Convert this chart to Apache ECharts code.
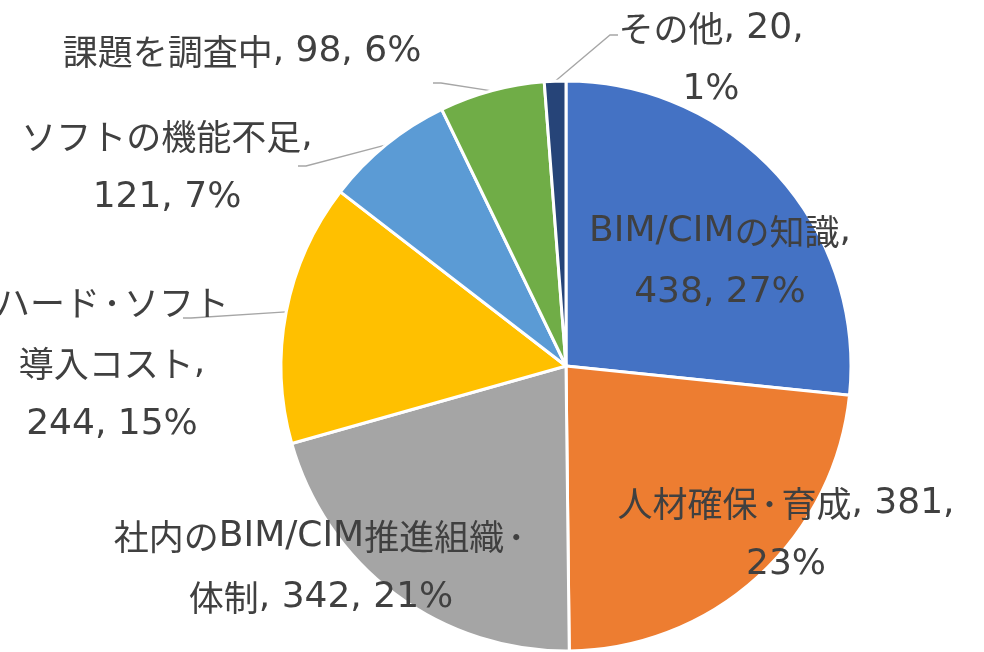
<!DOCTYPE html>
<html>
<head>
<meta charset="utf-8">
<script src="https://cdn.jsdelivr.net/npm/echarts@6/dist/echarts.min.js"></script>
<style>
html,body{margin:0;padding:0;background:#fff;}
#chart{width:984px;height:652px;}
</style>
</head>
<body>
<div id="chart"></div>
<script>
// ---- data ----
const categories = ['BIM/CIMの知識', '人材確保・育成', '社内のBIM/CIM推進組織・体制', 'ハード・ソフト導入コスト', 'ソフトの機能不足', '課題を調査中', 'その他'];
const values = [438, 381, 342, 244, 121, 98, 20];

// ---- presentation (kept apart from data) ----
const colors = ['#4472C4', '#ED7D31', '#A5A5A5', '#FFC000', '#5B9BD5', '#70AD47', '#264478'];
// where the category name wraps (char index, -1 = none)
const nameWrapAt = [-1, -1, 15, 7, -1, -1, -1];
// which separator becomes a line break: 0 none, 1 after name, 2 after value
const sepBreak = [1, 2, 0, 1, 1, 0, 2];
// label block centres
const labelCenters = [[720, 262], [786, 534], [321, 567], [112, 364], [167, 167], [242, 52], [711, 59]];
// leader-line end, offset from label centre (null = no leader line)
const leaderEnds = [null, null, null, [71, -46], [131, -1], [191, 31], [-93, -24]];

const CJK = /[\u3000-\u30ff\u3400-\u9fff\uff00-\uffef]/;
function cls(ch) {
  if (ch === '・') return 'd';
  return CJK.test(ch) ? 'j' : 'l';
}
function richify(text) {
  return text.split('\n').map(function (line) {
    let out = '', run = '', runCls = null;
    for (const ch of line) {
      const c = cls(ch);
      if (runCls !== null && c !== runCls) { out += '{' + runCls + '|' + run + '}'; run = ''; }
      runCls = c; run += ch;
    }
    if (run) out += '{' + runCls + '|' + run + '}';
    return out;
  }).join('\n');
}

const pieData = categories.map(function (name, i) {
  return {
    name: name,
    value: values[i],
    itemStyle: { color: colors[i] },
    labelLine: { show: leaderEnds[i] !== null }
  };
});

const chart = echarts.init(document.getElementById('chart'), null, { renderer: 'canvas' });
chart.setOption({
  backgroundColor: '#ffffff',
  animation: false,
  series: [{
    type: 'pie',
    center: [566, 366],
    radius: 285,
    startAngle: 90,
    clockwise: true,
    avoidLabelOverlap: false,
    data: pieData,
    itemStyle: { borderColor: '#ffffff', borderWidth: 3 },
    label: {
      show: true,
      position: 'outside',
      color: '#404040',
      align: 'center',
      formatter: function (p) {
        const i = p.dataIndex;
        let name = p.name;
        if (nameWrapAt[i] > 0) name = name.slice(0, nameWrapAt[i]) + '\n' + name.slice(nameWrapAt[i]);
        const pct = Math.round(p.percent) + '%';
        const s1 = sepBreak[i] === 1 ? ',\n' : ', ';
        const s2 = sepBreak[i] === 2 ? ',\n' : ', ';
        return richify(name + s1 + p.value + s2 + pct);
      },
      rich: {
        l: { fontFamily: 'DejaVu Sans', fontSize: 36, color: '#404040', lineHeight: 61, align: 'center' },
        j: { fontFamily: 'Noto Sans CJK JP', fontSize: 35, color: '#404040', lineHeight: 61, align: 'center' },
        d: { fontFamily: 'Noto Sans CJK JP', fontSize: 24, fontWeight: 'bold', color: '#404040', lineHeight: 61, align: 'center' }
      }
    },
    labelLine: {
      show: true,
      length: 10,
      length2: 10,
      lineStyle: { color: '#A6A6A6', width: 1.3 }
    },
    labelLayout: function (p) {
      const i = p.dataIndex;
      const c = labelCenters[i];
      const res = { x: c[0], y: c[1], align: 'center', verticalAlign: 'middle' };
      const e = leaderEnds[i];
      if (e) {
        let start;
        if (p.labelLinePoints && p.labelLinePoints.length) {
          start = p.labelLinePoints[0];
        } else {
          const total = values.reduce(function (a, b) { return a + b; }, 0);
          let before = 0;
          for (let k = 0; k < i; k++) before += values[k];
          const ang = (90 - (before + values[i] / 2) / total * 360) * Math.PI / 180;
          start = [566 + 285 * Math.cos(ang), 366 - 285 * Math.sin(ang)];
        }
        const ex = c[0] + e[0], ey = c[1] + e[1];
        const dir = start[0] > ex ? 1 : -1;
        res.labelLinePoints = [[ex, ey], [ex + dir * 8, ey], [start[0], start[1]]];
      }
      return res;
    }
  }]
});
</script>
</body>
</html>
